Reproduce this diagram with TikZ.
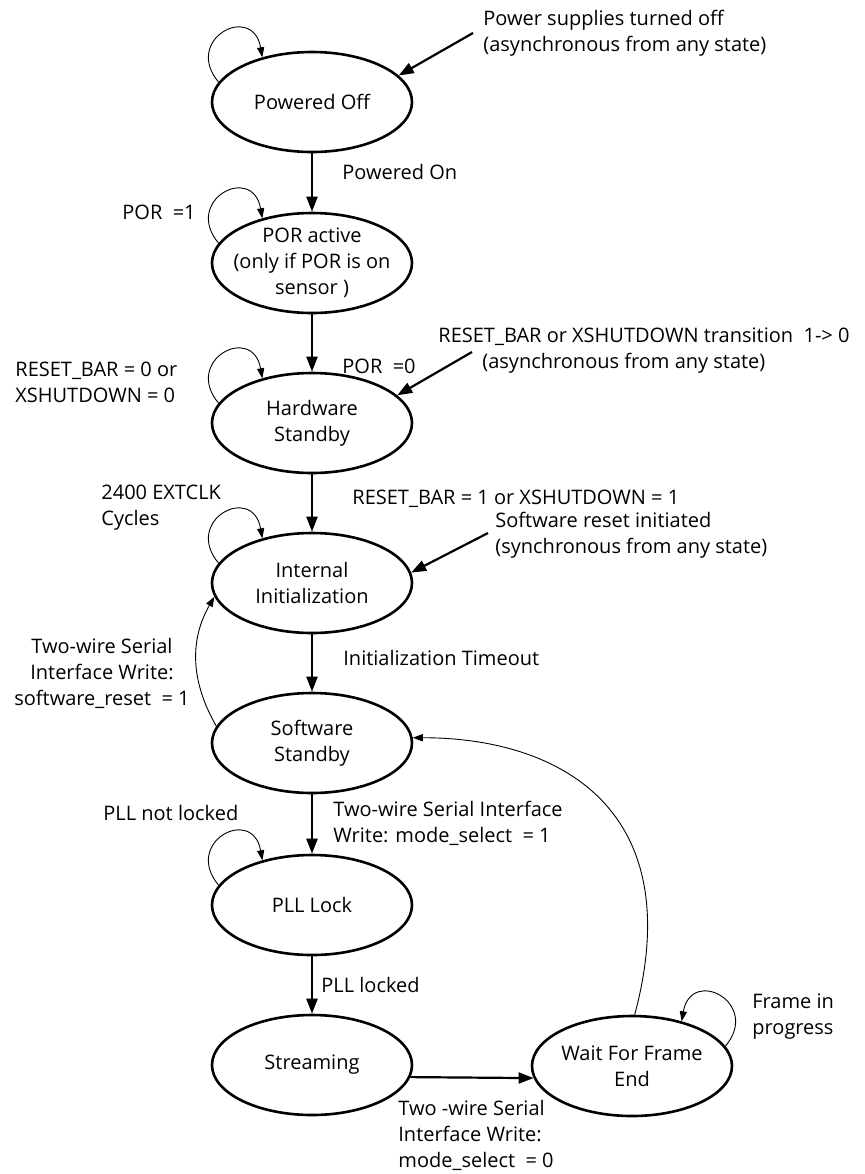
\documentclass[tikz,border=0pt]{standalone}
\usepackage{fontspec}
\setmainfont{Open Sans}
\usetikzlibrary{arrows.meta,shapes.geometric}

\begin{document}
\begin{tikzpicture}[x=0.5pt,y=0.5pt,
	txt/.style={font=\fontsize{10pt}{13pt}\selectfont, align=center, inner sep=0pt},
	lbl/.style={txt, align=left, anchor=west},
	fsmstate/.style={ellipse, draw, line width=1.3pt, minimum width=100pt, minimum height=50pt, inner sep=0pt, label={[txt]center:#1}},
	trans/.style={line width=1.1pt, -{Triangle[length=7.5pt,width=5.5pt]}},
	minor/.style={line width=0.45pt, -{Triangle[length=5pt,width=3.6pt]}}]
	\useasboundingbox (0,0) rectangle (865,-1174);

	% states
	\node[fsmstate={Powered Off}] (po) at (312,-102) {};
	\node[fsmstate={POR active\\(only if POR is on\\sensor )}] (por) at (312,-263) {};
	\node[fsmstate={Hardware\\Standby}] (hws) at (312,-423) {};
	\node[fsmstate={Internal\\Initialization}] (ii) at (312,-583) {};
	\node[fsmstate={Software\\Standby}] (sws) at (312,-743) {};
	\node[fsmstate={PLL Lock}] (pll) at (312,-905) {};
	\node[fsmstate={Streaming}] (str) at (312,-1065) {};
	\node[fsmstate={Wait For Frame\\End}] (wf) at (632,-1066) {};

	% main transitions
	\draw[trans] (po) -- (por);
	\draw[trans] (por) -- (hws);
	\draw[trans] (hws) -- (ii);
	\draw[trans] (ii) -- (sws);
	\draw[trans] (sws) -- (pll);
	\draw[trans] (pll) -- (str);
	\draw[trans] (str.-7) -- (wf.187);

	% asynchronous entries
	\coordinate (pwsrc) at (473,-33);
	\coordinate (rstsrc) at (472,-352);
	\coordinate (swsrc) at (488,-533);
	\draw[trans] (pwsrc) -- (po.17);
	\draw[trans] (rstsrc) -- (hws.18);
	\draw[trans] (swsrc) -- (ii.6);

	% self loops
	\foreach \s in {po,por,hws,ii,pll}{
		\draw[minor] (\s.168) .. controls +(130:56) and +(100:56) .. (\s.138);
	}
	\draw[minor] (wf.12) .. controls +(50:56) and +(80:56) .. (wf.42);

	% back to standby
	\draw[minor] (sws.170) to[out=120,in=240] (ii.188);
	\draw[minor] (wf.87) .. controls +(75:210) and +(0:150) .. (sws.3);

	% labels
	\node[lbl] (pwoff) at (483,-33) {Power supplies turned off\\(asynchronous from any state)};
	\node[lbl] (pwon) at (342,-172) {Powered On};
	\node[lbl] (por1) at (122,-212) {POR~ =1};
	\node[lbl] (por0) at (342,-366) {POR~ =0};
	\node[lbl] (rstasync) at (438,-351) {RESET\_BAR or XSHUTDOWN transition~ 1-> 0\\\hspace*{22pt}(asynchronous from any state)};
	\node[lbl] (rst0) at (15,-382) {RESET\_BAR = 0 or\\XSHUTDOWN = 0};
	\node[lbl] (rst1) at (352,-499) {RESET\_BAR = 1 or XSHUTDOWN = 1};
	\node[lbl] (clk) at (101,-508) {2400 EXTCLK\\Cycles};
	\node[lbl] (swrst) at (495,-535) {Software reset initiated\\(synchronous from any state)};
	\node[lbl] (tmo) at (343,-658) {Initialization Timeout};
	\node[txt] (swwr) at (102,-673) {Two-wire Serial\\Interface Write:\\software\_reset~ = 1};
	\node[lbl] (pllnl) at (103,-813) {PLL not locked};
	\node[lbl] (mode1) at (333,-823) {Two-wire Serial Interface\\Write: mode\_select~ = 1};
	\node[lbl] (plll) at (321,-985) {PLL locked};
	\node[lbl] (frm) at (752,-1017) {Frame in\\progress};
	\node[lbl] (mode0) at (398,-1135) {Two -wire Serial\\Interface Write:\\mode\_select~ = 0};
\end{tikzpicture}
\end{document}
